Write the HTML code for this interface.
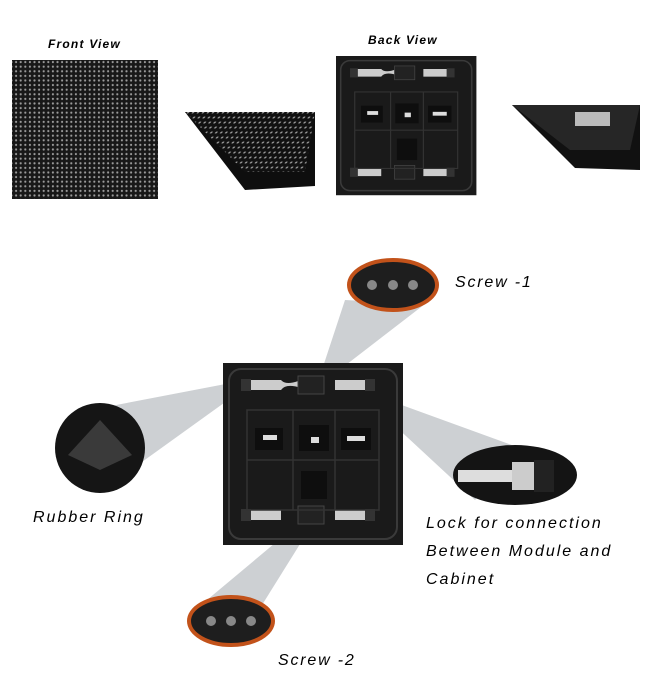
<!DOCTYPE html>
<html><head><style>
body{margin:0;background:#fff;}
svg{display:block}
text{font-family:"Liberation Sans",sans-serif;font-style:italic;}
</style></head><body>
<svg width="650" height="696" viewBox="0 0 650 696" xmlns="http://www.w3.org/2000/svg">
<defs>
<pattern id="dots" width="4.6" height="4.6" patternUnits="userSpaceOnUse">
<rect width="4.6" height="4.6" fill="#181818"/><circle cx="2.3" cy="2.3" r="1.1" fill="#9a9a9a"/>
</pattern>
<pattern id="dots2" width="5" height="5" patternUnits="userSpaceOnUse" patternTransform="skewX(-40)">
<rect width="5" height="5" fill="#111"/><circle cx="2.5" cy="2.5" r="1.1" fill="#999"/>
</pattern>
<g id="mod">
<rect x="0" y="0" width="180" height="182" fill="#1a1a1a"/>
<rect x="6" y="6" width="168" height="170" rx="12" fill="none" stroke="#3a3a3a" stroke-width="2"/>
<g fill="#ccc">
<rect x="18" y="16" width="10" height="12" fill="#333"/>
<path d="M28 17 h30 q5 6 20 0 v8 q-15 -5 -20 2 h-30z"/>
<rect x="112" y="17" width="30" height="10"/><rect x="142" y="16" width="10" height="12" fill="#333"/>
<rect x="18" y="146" width="10" height="12" fill="#333"/>
<rect x="28" y="147" width="30" height="10"/>
<rect x="112" y="147" width="30" height="10"/><rect x="142" y="146" width="10" height="12" fill="#333"/>
</g>
<rect x="75" y="13" width="26" height="18" fill="#222" stroke="#444"/>
<rect x="75" y="143" width="26" height="18" fill="#222" stroke="#444"/>
<g fill="none" stroke="#333" stroke-width="1.5">
<rect x="24" y="47" width="132" height="100"/>
<line x1="70" y1="47" x2="70" y2="147"/><line x1="112" y1="47" x2="112" y2="147"/>
<line x1="24" y1="97" x2="156" y2="97"/>
</g>
<rect x="32" y="65" width="28" height="22" fill="#0e0e0e"/><rect x="40" y="72" width="14" height="5" fill="#ddd"/>
<rect x="76" y="62" width="30" height="26" fill="#0e0e0e"/><rect x="88" y="74" width="8" height="6" fill="#ddd"/>
<rect x="118" y="65" width="30" height="22" fill="#0e0e0e"/><rect x="124" y="73" width="18" height="5" fill="#ddd"/>
<rect x="78" y="108" width="26" height="28" fill="#0e0e0e"/>
</g>
</defs>

<text x="48" y="48" font-size="12" font-weight="bold" letter-spacing="1.2">Front View</text>
<rect x="12" y="60" width="146" height="139" fill="url(#dots)"/>

<polygon points="185,112 315,112 315,186 245,190" fill="#0e0e0e"/>
<polygon points="185,112 315,112 305,172 245,172" fill="url(#dots2)"/>

<text x="368" y="44" font-size="12" font-weight="bold" letter-spacing="1.2">Back View</text>
<g transform="translate(336,56) scale(0.78,0.765)"><use href="#mod"/></g>

<polygon points="512,105 640,105 640,170 575,168" fill="#111"/>
<polygon points="512,105 640,105 630,150 570,150" fill="#262626"/>
<rect x="575" y="112" width="35" height="14" fill="#bbb"/>

<!-- beams -->
<polygon points="345,300 425,304 316,388" fill="#cdd0d3"/>
<polygon points="236,382 242,390 110,485 90,410" fill="#cdd0d3"/>
<polygon points="355,388 365,398 475,500 520,448" fill="#cdd0d3"/>
<polygon points="305,518 315,520 262,605 195,610" fill="#cdd0d3"/>

<g transform="translate(223,363)"><use href="#mod"/></g>

<!-- screw 1 -->
<ellipse cx="393" cy="285" rx="44" ry="25" fill="#1e1e1e" stroke="#c2521a" stroke-width="4"/>
<circle cx="372" cy="285" r="5" fill="#888"/><circle cx="393" cy="285" r="5" fill="#888"/><circle cx="413" cy="285" r="5" fill="#888"/>
<text x="455" y="287" font-size="16" letter-spacing="1.8">Screw -1</text>

<!-- rubber ring -->
<circle cx="100" cy="448" r="45" fill="#151515"/>
<polygon points="68,455 100,420 132,455 100,470" fill="#3a3a3a"/>
<text x="33" y="522" font-size="16" letter-spacing="2">Rubber Ring</text>

<!-- lock -->
<ellipse cx="515" cy="475" rx="62" ry="30" fill="#141414"/>
<path d="M458 470 h55 v12 h-55z" fill="#ddd"/>
<rect x="512" y="462" width="22" height="28" fill="#ccc"/><rect x="534" y="460" width="20" height="32" fill="#222"/>
<text x="426" y="528" font-size="16" letter-spacing="2">Lock for connection</text>
<text x="426" y="556" font-size="16" letter-spacing="2">Between Module and</text>
<text x="426" y="584" font-size="16" letter-spacing="2">Cabinet</text>

<!-- screw 2 -->
<ellipse cx="231" cy="621" rx="42" ry="24" fill="#1e1e1e" stroke="#c2521a" stroke-width="4"/>
<circle cx="211" cy="621" r="5" fill="#888"/><circle cx="231" cy="621" r="5" fill="#888"/><circle cx="251" cy="621" r="5" fill="#888"/>
<text x="278" y="665" font-size="16" letter-spacing="1.8">Screw -2</text>
</svg>
</body></html>
